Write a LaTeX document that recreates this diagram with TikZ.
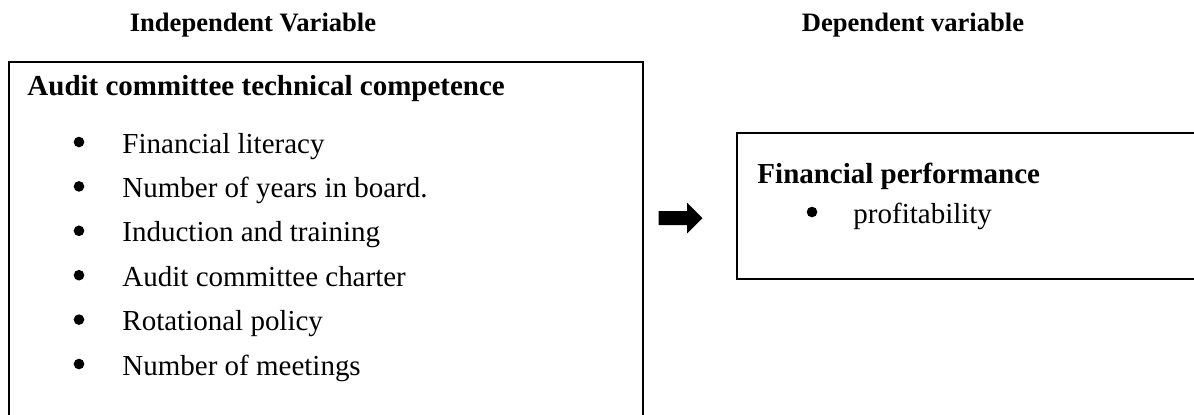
\documentclass[tikz,border=0pt,12pt]{standalone}
\usepackage{fontspec}
\setmainfont{Liberation Serif}
\usetikzlibrary{positioning,shapes.arrows}

\begin{document}
\begin{tikzpicture}
	[x=0.414pt,y=-0.414pt,
	heading/.style={font=\fontsize{11}{13}\selectfont\bfseries,anchor=base},
	boxtitle/.style={font=\bfseries,anchor=base west,inner sep=0pt},
	itemtext/.style={anchor=base west,inner sep=0pt},
	itemdot/.style={circle,fill=black,inner sep=0pt,minimum size=4.4pt},
	varbox/.style={draw=black,line width=0.9pt},
	link/.style={single arrow,fill=black,draw=none,inner sep=2.7pt,
		single arrow head extend=3.5pt,minimum height=18.2pt},
	]
	\useasboundingbox (0,0) rectangle (1194,414);
	\clip (0,0) rectangle (1194,414);
	\node (ivhead) [heading] at (253,31) {Independent Variable};
	\node (dvhead) [heading] at (913,31) {Dependent variable};
	% independent variable
	\draw[varbox] (9,62) rectangle (643,440);
	\node (ivtitle) [boxtitle] at (27,95) {Audit committee technical competence};
	\foreach \txt [count=\i] in {Financial literacy,Number of years in board.,Induction and training,Audit committee charter,Rotational policy,Number of meetings}
	{
		\node (d\i) [itemdot] at (79,{153+44.4*(\i-1)-11}) {};
		\node (iv\i) [itemtext] at (122,{153+44.4*(\i-1)}) {\txt};
	}
	% dependent variable
	\draw[varbox] (737,133) rectangle (1200,279);
	\node (dvtitle) [boxtitle] at (757,183) {Financial performance};
	\node (dd1) [itemdot] at (812,212) {};
	\node (dv1) [itemtext] at (853,223) {profitability};
	\node (arr) [link] at (677,218) {};
\end{tikzpicture}
\end{document}
